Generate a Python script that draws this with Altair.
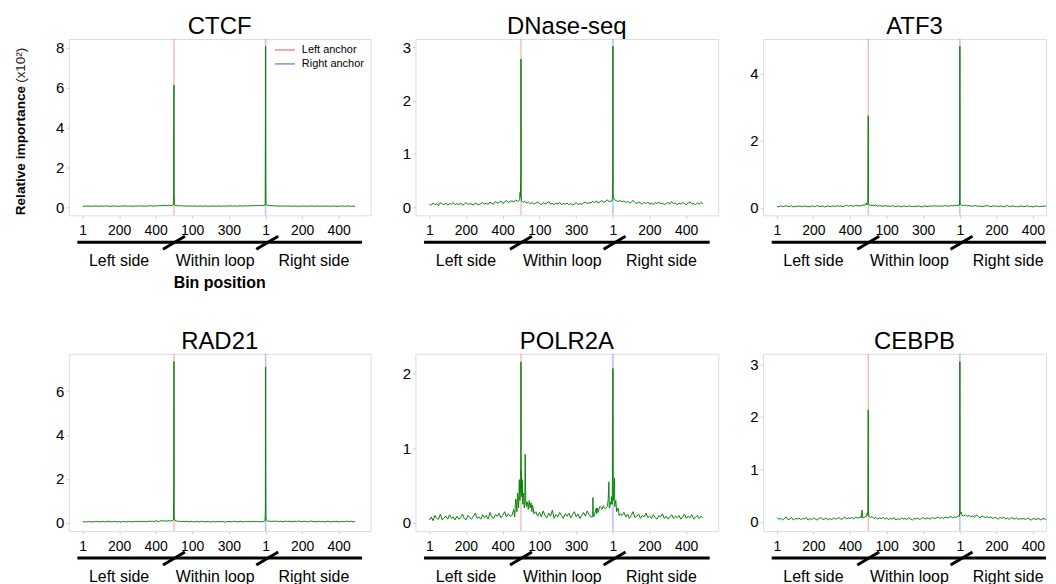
import altair as alt
import pandas as pd

FONT = "Liberation Sans"

# ---------------- data ----------------
# Concatenated bin axis: left side 1-500, within loop 501-1000 (loop bins 1-500), right side 1001-1500
SAMPLE_BINS = list(range(1, 1501, 10))

TICK_POS = [1, 200, 400, 600, 800, 1001, 1200, 1400]
TICK_LABELS = ["1", "200", "400", "100", "300", "1", "200", "400"]

GROUP_LABELS = ["Left side", "Within loop", "Right side"]
GROUP_CENTERS = [200, 725, 1265]
SLASH_POS = [500, 1010]

ANCHOR_BINS = [500, 1001]
ANCHOR_NAMES = ["Left anchor", "Right anchor"]
ANCHOR_COLORS = ["#ff2020", "#2020ff"]

# baseline values (x1e-2 of axis unit), one per sampled bin
ctcf_base = [
    5, 4, 5, 6, 4, 5, 5, 6, 5, 4, 6, 5, 5, 7, 5,
    4, 5, 6, 5, 5, 4, 6, 5, 7, 5, 5, 6, 4, 5, 6,
    5, 7, 5, 6, 5, 5, 6, 8, 5, 6, 7, 6, 8, 7, 9,
    8, 7, 9, 8, 7, 9, 8, 7, 6, 7, 6, 5, 6, 5, 6,
    5, 6, 5, 4, 6, 5, 5, 6, 5, 4, 5, 6, 5, 5, 6,
    5, 4, 6, 5, 6, 5, 7, 5, 6, 5, 6, 7, 5, 6, 7,
    6, 7, 6, 8, 7, 8, 7, 9, 8, 9, 10, 9, 8, 7, 6,
    7, 6, 5, 6, 5, 6, 5, 5, 6, 4, 5, 6, 5, 4, 5,
    5, 6, 4, 5, 5, 6, 5, 4, 6, 5, 5, 4, 6, 5, 5,
    4, 5, 6, 5, 4, 5, 5, 6, 4, 5, 6, 5, 4, 5, 5,
]
ctcf_peak_bins = [496, 498, 499, 500, 501, 502, 505, 997, 999, 1000, 1001, 1002, 1003, 1006]
ctcf_peak_vals = [0.12, 0.35, 4.2, 6.13, 0.6, 0.15, 0.08, 0.1, 0.25, 3.65, 8.06, 1.85, 0.2, 0.1]

dnase_base = [
    6, 4, 8, 5, 7, 3, 9, 6, 5, 8, 4, 7, 6, 9, 5,
    7, 5, 8, 4, 6, 9, 5, 7, 6, 4, 8, 6, 5, 7, 9,
    6, 8, 5, 10, 7, 6, 11, 8, 9, 12, 7, 10, 13, 9, 11,
    12, 10, 14, 11, 13, 12, 9, 11, 8, 10, 7, 9, 6, 8, 10,
    7, 5, 9, 6, 8, 11, 6, 7, 5, 8, 6, 9, 5, 7, 6,
    8, 5, 7, 4, 6, 9, 5, 7, 6, 8, 10, 7, 9, 8, 11,
    9, 12, 8, 10, 13, 9, 11, 14, 10, 12, 15, 14, 12, 11, 13,
    10, 12, 9, 11, 8, 10, 13, 9, 7, 10, 8, 6, 9, 7, 10,
    6, 8, 5, 9, 7, 10, 6, 8, 5, 7, 9, 6, 11, 7, 8,
    5, 8, 6, 9, 7, 5, 8, 10, 6, 7, 5, 8, 6, 9, 7,
]
dnase_peak_bins = [493, 495, 497, 499, 500, 501, 503, 996, 998, 1000, 1001, 1002, 1004, 1007]
dnase_peak_vals = [0.15, 0.28, 0.2, 0.6, 2.78, 0.2, 0.12, 0.12, 0.18, 0.5, 3.02, 0.23, 0.2, 0.15]

atf3_base = [
    5, 3, 6, 4, 5, 7, 4, 5, 6, 3, 5, 4, 6, 5, 4,
    6, 4, 5, 3, 6, 5, 4, 7, 5, 4, 6, 3, 5, 6, 4,
    5, 6, 4, 7, 5, 6, 4, 6, 8, 5, 7, 6, 5, 8, 6,
    7, 6, 9, 8, 10, 9, 7, 8, 6, 9, 5, 7, 6, 5, 7,
    5, 6, 4, 7, 5, 4, 6, 5, 3, 6, 5, 4, 6, 5, 4,
    5, 4, 6, 5, 3, 5, 6, 4, 5, 6, 5, 7, 5, 6, 5,
    6, 5, 7, 6, 5, 7, 6, 8, 7, 8, 9, 8, 7, 9, 6,
    7, 6, 5, 7, 6, 5, 6, 4, 5, 6, 7, 5, 4, 6, 5,
    6, 4, 5, 6, 3, 5, 7, 4, 5, 6, 4, 5, 3, 6, 5,
    4, 5, 6, 4, 5, 3, 5, 6, 4, 5, 4, 6, 5, 4, 5,
]
atf3_peak_bins = [490, 495, 498, 500, 501, 503, 998, 1000, 1001, 1002, 1003, 1005]
atf3_peak_vals = [0.15, 0.1, 0.12, 2.75, 0.15, 0.1, 0.08, 0.3, 4.82, 0.25, 0.12, 0.1]

rad21_base = [
    4, 5, 3, 6, 4, 5, 4, 6, 5, 4, 5, 6, 4, 5, 7,
    5, 4, 6, 5, 4, 5, 3, 6, 5, 4, 6, 5, 4, 6, 5,
    6, 5, 7, 5, 6, 4, 8, 6, 7, 5, 9, 7, 6, 10, 8,
    9, 7, 10, 8, 9, 8, 10, 6, 7, 5, 6, 5, 7, 4, 6,
    5, 4, 6, 5, 4, 7, 5, 4, 6, 5, 3, 6, 4, 5, 6,
    4, 6, 5, 3, 5, 6, 4, 5, 7, 5, 4, 6, 5, 4, 6,
    5, 6, 4, 7, 5, 6, 5, 4, 6, 5, 6, 7, 8, 6, 7,
    6, 8, 5, 7, 6, 5, 8, 6, 7, 5, 6, 7, 5, 8, 6,
    5, 7, 6, 4, 6, 8, 5, 6, 4, 7, 5, 6, 4, 5, 7,
    5, 4, 6, 5, 7, 4, 5, 6, 4, 8, 5, 6, 7, 4, 6,
]
rad21_peak_bins = [497, 499, 500, 501, 503, 998, 1000, 1001, 1002, 1003, 1005]
rad21_peak_vals = [0.15, 1.43, 7.35, 0.3, 0.12, 0.1, 0.6, 7.09, 1.9, 0.3, 0.1]

polr2a_base = [
    4, 8, 3, 10, 6, 5, 12, 4, 7, 9, 5, 11, 6, 8, 4,
    9, 5, 7, 12, 6, 4, 10, 7, 5, 9, 13, 6, 8, 5, 11,
    7, 10, 5, 14, 8, 6, 11, 9, 13, 7, 10, 15, 8, 12, 9,
    10, 18, 32, 40, 58, 40, 30, 25, 28, 22, 26, 24, 12, 15, 9,
    14, 8, 16, 10, 7, 13, 9, 17, 6, 11, 8, 14, 10, 6, 12,
    9, 13, 7, 11, 15, 8, 12, 6, 10, 14, 9, 16, 11, 8, 10,
    12, 20, 15, 22, 18, 21, 19, 23, 20, 25, 30, 22, 15, 18, 12,
    10, 14, 8, 12, 6, 10, 15, 7, 9, 12, 6, 10, 8, 13, 7,
    9, 6, 11, 7, 5, 10, 8, 12, 6, 9, 5, 8, 11, 6, 9,
    7, 10, 5, 8, 12, 6, 9, 7, 11, 5, 8, 10, 6, 9, 7,
]
polr2a_peak_bins = [466, 473, 478, 483, 487, 491, 494, 497, 499, 500, 502, 504, 507, 510,
                    514, 518, 523, 526, 530, 535, 540, 545, 550, 555, 560, 565,
                    888, 890, 892, 894, 896, 912, 916, 920, 930, 940, 950, 960, 970, 975,
                    979, 983, 988, 993, 997, 999, 1001, 1003, 1006, 1010, 1013, 1017, 1022,
                    1028, 1035]
polr2a_peak_vals = [0.08, 0.3, 0.15, 0.35, 0.2, 0.58, 0.3, 0.45, 0.6, 2.16, 0.7, 0.35, 0.58, 0.25,
                    0.4, 0.2, 0.92, 0.3, 0.22, 0.28, 0.18, 0.3, 0.2, 0.27, 0.15, 0.22,
                    0.08, 0.1, 0.34, 0.1, 0.08, 0.12, 0.2, 0.14, 0.22, 0.2, 0.23, 0.19, 0.22, 0.3,
                    0.55, 0.2, 0.28, 0.35, 0.25, 0.82, 2.07, 0.3, 0.45, 0.6, 0.25, 0.3, 0.15,
                    0.2, 0.1]

cebpb_base = [
    8, 4, 7, 3, 6, 9, 4, 5, 8, 3, 6, 5, 7, 4, 6,
    5, 8, 3, 6, 4, 7, 5, 3, 6, 8, 4, 5, 7, 3, 6,
    4, 7, 5, 6, 8, 4, 6, 9, 5, 7, 6, 8, 5, 9, 7,
    8, 10, 7, 9, 12, 9, 8, 10, 6, 8, 5, 7, 6, 8, 5,
    7, 4, 6, 5, 8, 3, 6, 4, 7, 5, 6, 4, 8, 5, 3,
    6, 5, 7, 4, 6, 8, 5, 7, 6, 5, 8, 6, 7, 9, 6,
    8, 6, 9, 7, 8, 10, 7, 9, 8, 11, 12, 14, 11, 13, 10,
    12, 9, 11, 8, 13, 10, 7, 11, 9, 8, 10, 7, 9, 6, 8,
    7, 5, 8, 6, 9, 5, 7, 4, 8, 6, 5, 7, 4, 6, 5,
    6, 4, 7, 5, 3, 6, 5, 4, 7, 3, 5, 6, 4, 5, 4,
]
cebpb_peak_bins = [462, 466, 470, 490, 495, 498, 500, 501, 503, 998, 1000, 1001, 1002, 1004, 1008, 1012]
cebpb_peak_vals = [0.08, 0.22, 0.08, 0.1, 0.17, 0.12, 2.13, 0.2, 0.1, 0.1, 0.18, 3.05, 0.2, 0.15, 0.18, 0.12]

PANEL_NAMES = ["CTCF", "DNase-seq", "ATF3", "RAD21", "POLR2A", "CEBPB"]
PANEL_BASE = [ctcf_base, dnase_base, atf3_base, rad21_base, polr2a_base, cebpb_base]
PANEL_PEAK_BINS = [ctcf_peak_bins, dnase_peak_bins, atf3_peak_bins, rad21_peak_bins,
                   polr2a_peak_bins, cebpb_peak_bins]
PANEL_PEAK_VALS = [ctcf_peak_vals, dnase_peak_vals, atf3_peak_vals, rad21_peak_vals,
                   polr2a_peak_vals, cebpb_peak_vals]
PANEL_YDOMAIN = [[-0.41, 8.43], [-0.15, 3.155], [-0.22, 5.04],
                 [-0.38, 7.70], [-0.11, 2.267], [-0.18, 3.2]]
PANEL_YTICKS = [[0, 2, 4, 6, 8], [0, 1, 2, 3], [0, 2, 4], [0, 2, 4, 6], [0, 1, 2], [0, 1, 2, 3]]

# ---------------- layout / style ----------------
# third column is cut at the right page edge, as in the reference
COL_W = [303, 304, 284]
ROW_H = [177, 178]
XDOM = [[-75, 1575], [-75, 1575], [-75, 1472]]
BAR_START, BAR_END = -28, 1528
LINE_GREEN = "#0a820a"

label_expr = "''"
for p, l in reversed(list(zip(TICK_POS, TICK_LABELS))):
    label_expr = f"datum.value == {p} ? '{l}' : ({label_expr})"

X_AXIS = alt.Axis(
    values=TICK_POS, labelExpr=label_expr, title=None, domain=False, grid=False,
    tickColor="#d0d0d0", tickSize=3, labelFont=FONT, labelFontSize=14,
    labelColor="black", labelPadding=5, labelFlush=False, labelOverlap=False)


def panel(i):
    name = PANEL_NAMES[i]
    base = PANEL_BASE[i]
    assert len(base) == len(SAMPLE_BINS), name
    assert len(PANEL_PEAK_BINS[i]) == len(PANEL_PEAK_VALS[i]), name
    vals = {b: v / 100 for b, v in zip(SAMPLE_BINS, base)}
    vals.update(dict(zip(PANEL_PEAK_BINS[i], PANEL_PEAK_VALS[i])))
    bins = sorted(vals)
    df = pd.DataFrame({"bin": bins, "value": [vals[b] for b in bins]})

    col, row = i % 3, i // 3
    w, h = COL_W[col], ROW_H[row]
    xs = alt.Scale(domain=XDOM[col], nice=False, zero=False)
    ys = alt.Scale(domain=PANEL_YDOMAIN[i], nice=False, zero=False)
    bar_end = min(BAR_END, XDOM[col][1])

    anchors = pd.DataFrame({"bin": ANCHOR_BINS, "kind": ANCHOR_NAMES})
    rules = alt.Chart(anchors).mark_rule(strokeWidth=1.5, opacity=0.3).encode(
        x=alt.X("bin:Q", scale=xs, axis=X_AXIS),
        color=alt.Color("kind:N", scale=alt.Scale(domain=ANCHOR_NAMES, range=ANCHOR_COLORS),
                        legend=None),
    )
    line = alt.Chart(df).mark_line(color=LINE_GREEN, strokeWidth=1, clip=True).encode(
        x=alt.X("bin:Q", scale=xs, axis=X_AXIS),
        y=alt.Y("value:Q", scale=ys, axis=alt.Axis(
            values=PANEL_YTICKS[i], format="d", title=None, domain=False, grid=False,
            tickColor="#d0d0d0", tickSize=3, labelFont=FONT, labelFontSize=15,
            labelColor="black", labelPadding=2)),
    )
    bar = alt.Chart(pd.DataFrame({"bin": [BAR_START], "bin2": [bar_end]})).mark_rule(
        color="black", strokeWidth=3).encode(
        x=alt.X("bin:Q", scale=xs, axis=X_AXIS), x2="bin2:Q", y=alt.value(h + 27))
    slashes = alt.Chart(pd.DataFrame({"bin": SLASH_POS})).mark_rule(
        color="black", strokeWidth=3, xOffset=-11, x2Offset=11).encode(
        x=alt.X("bin:Q", scale=xs, axis=X_AXIS), x2=alt.X2("bin"),
        y=alt.value(h + 34), y2=alt.value(h + 21))
    groups = alt.Chart(pd.DataFrame({"label": GROUP_LABELS, "bin": GROUP_CENTERS})).mark_text(
        font=FONT, fontSize=16, color="black", baseline="middle", align="center").encode(
        x=alt.X("bin:Q", scale=xs, axis=X_AXIS), y=alt.value(h + 46), text="label:N")
    title = alt.Chart(pd.DataFrame({"t": [name]})).mark_text(
        font=FONT, fontSize=24, color="black", baseline="alphabetic", align="center").encode(
        x=alt.value(COL_W[min(col, 1)] / 2), y=alt.value(-5), text="t:N")

    layers = [rules, line, bar, slashes, groups, title]

    if i == 0:
        xlab = alt.Chart(pd.DataFrame({"t": ["Bin position"], "bin": [750]})).mark_text(
            font=FONT, fontSize=16, fontWeight="bold", color="black", baseline="middle").encode(
            x=alt.X("bin:Q", scale=xs, axis=X_AXIS), y=alt.value(h + 68), text="t:N")
        ytitle = alt.Chart(pd.DataFrame({"t": ["Relative importance"]})).mark_text(
            font=FONT, fontSize=13.7, fontWeight="bold", color="black", angle=270,
            align="left", baseline="middle").encode(
            x=alt.value(-48), y=alt.value(h), text="t:N")
        yunit = alt.Chart(pd.DataFrame({"t": ["(x10\u00b2)"]})).mark_text(
            font=FONT, fontSize=13.5, color="#222222", angle=270,
            align="left", baseline="middle").encode(
            x=alt.value(-48), y=alt.value(44), text="t:N")
        layers += [xlab, ytitle, yunit]
        for k, (lab, colr) in enumerate(zip(ANCHOR_NAMES, ANCHOR_COLORS)):
            ly = 11 + 14 * k
            lg_line = alt.Chart(pd.DataFrame({"k": [0]})).mark_rule(
                color=colr, strokeWidth=1.5, opacity=0.55).encode(
                x=alt.value(w - 96), x2=alt.value(w - 76), y=alt.value(ly))
            lg_text = alt.Chart(pd.DataFrame({"t": [lab]})).mark_text(
                font=FONT, fontSize=11, color="black", align="left", baseline="middle").encode(
                x=alt.value(w - 69), y=alt.value(ly), text="t:N")
            layers += [lg_line, lg_text]

    return alt.layer(*layers).properties(width=w, height=h)


chart = alt.concat(*[panel(i) for i in range(6)], columns=3, align="each",
                   spacing={"row": 37, "column": 30}).configure_view(
    stroke="#a0a0a0", strokeWidth=1).configure(
    font=FONT, background="white",
    padding={"left": 5, "top": 5, "right": 0, "bottom": 0})

chart.save("out.html", embed_options={"renderer": "svg", "actions": False})
